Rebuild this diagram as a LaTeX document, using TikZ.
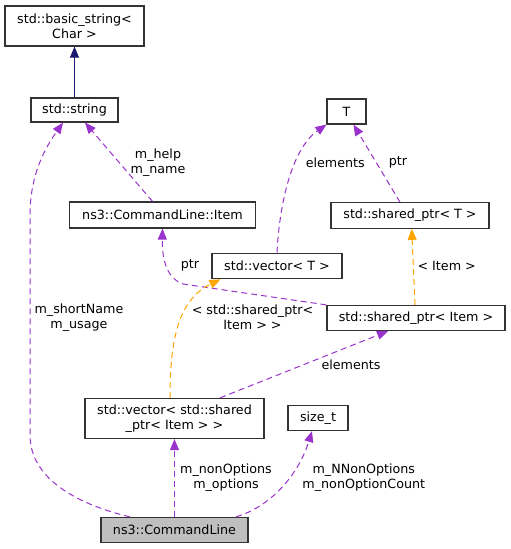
\documentclass[tikz,border=0pt]{standalone}
\usepackage{fontspec}
\setmainfont{DejaVu Sans}
\usetikzlibrary{arrows.meta}
\definecolor{edgepurple}{HTML}{9A32CD}
\definecolor{edgeorange}{HTML}{FFA500}
\definecolor{edgenavy}{HTML}{191970}
\definecolor{boxline}{HTML}{333333}
\definecolor{boxgray}{HTML}{BFBFBF}
\begin{document}
\begin{tikzpicture}[x=1pt,y=-1pt,
  every node/.style={font=\fontsize{12.7}{15}\selectfont, inner sep=0pt, align=center},
  cls/.style={draw=boxline, line width=1.2pt, fill=white, rectangle},
  lbl/.style={},
  tip/.style={-{Triangle[length=11pt,width=9pt]}},
  usage/.style={tip, draw=edgepurple, line width=1pt, dash pattern=on 6pt off 4pt},
  tmpl/.style={tip, draw=edgeorange, line width=1pt, dash pattern=on 6pt off 4pt},
  inherit/.style={tip, draw=edgenavy, line width=1pt}]
\useasboundingbox (0,0) rectangle (511,549);
% nodes
\node[cls, minimum width=139pt, minimum height=40pt] (bs) at (74.5,26) {std::basic\_string<\\Char >};
\node[cls, minimum width=87pt, minimum height=24pt] (str) at (74.5,110) {std::string};
\node[cls, minimum width=39pt, minimum height=25pt] (T) at (346.5,111.5) {T};
\node[cls, minimum width=186pt, minimum height=26pt] (item) at (162.5,215) {ns3::CommandLine::Item};
\node[cls, minimum width=158pt, minimum height=25.5pt] (spT) at (410,215.5) {std::shared\_ptr< T >};
\node[cls, minimum width=130pt, minimum height=25.5pt] (vT) at (277,266) {std::vector< T >};
\node[cls, minimum width=178pt, minimum height=25pt] (spI) at (416,318) {std::shared\_ptr< Item >};
\node[cls, minimum width=179pt, minimum height=40pt] (vsp) at (174.5,418.5) {std::vector< std::shared\\\_ptr< Item > >};
\node[cls, minimum width=60pt, minimum height=25pt] (sz) at (318,418) {size\_t};
\node[cls, fill=boxgray, minimum width=147pt, minimum height=25pt] (cl) at (174.5,530) {ns3::CommandLine};
% edges
\draw[inherit] (str.north) -- (bs.south);
\draw[usage] ([xshift=-10pt]item.north) -- ([xshift=10.5pt]str.south);
\draw[usage] ([xshift=-44.5pt]cl.north) .. controls (80,505) and (30,480) .. (30,435) -- (30,215) .. controls (30,175) and (45,148) .. ([xshift=-11.5pt]str.south);
\draw[usage] (vT.north) .. controls (279,210) and (290,150) .. (T.south west);
\draw[usage] ([xshift=-10pt]spT.north) -- ([xshift=7pt]T.south);
\draw[usage] (spI.north west) -- (183,284) .. controls (166,278) and (162,258) .. (item.south);
\draw[tmpl] ([xshift=-1pt]spI.north) -- ([xshift=1.7pt]spT.south);
\draw[tmpl] ([xshift=-4.5pt]vsp.north) .. controls (170,340) and (178,300) .. ([xshift=9pt]vT.south west);
\draw[usage] ([xshift=45.5pt]vsp.north) -- ([xshift=-28pt]spI.south);
\draw[usage] (cl.north) -- (vsp.south);
\draw[usage] ([xshift=61.5pt]cl.north) .. controls (275,505) and (300,470) .. ([xshift=-6pt]sz.south);
% labels
\node[lbl] (l1) at (158,163) {m\_help\\m\_name};
\node[lbl] (l2) at (79,318) {m\_shortName\\m\_usage};
\node[lbl] (l3) at (335.3,162.3) {elements};
\node[lbl] (l4) at (398,162) {ptr};
\node[lbl] (l5) at (190,265.7) {ptr};
\node[lbl] (l6) at (446.7,265.7) {< Item >};
\node[lbl] (l7) at (252.5,317.5) {< std::shared\_ptr<\\Item > >};
\node[lbl] (l8) at (351,364.3) {elements};
\node[lbl] (l9) at (226,477.5) {m\_nonOptions\\m\_options};
\node[lbl] (l10) at (363.8,477.5) {m\_NNonOptions\\m\_nonOptionCount};
\end{tikzpicture}
\end{document}
